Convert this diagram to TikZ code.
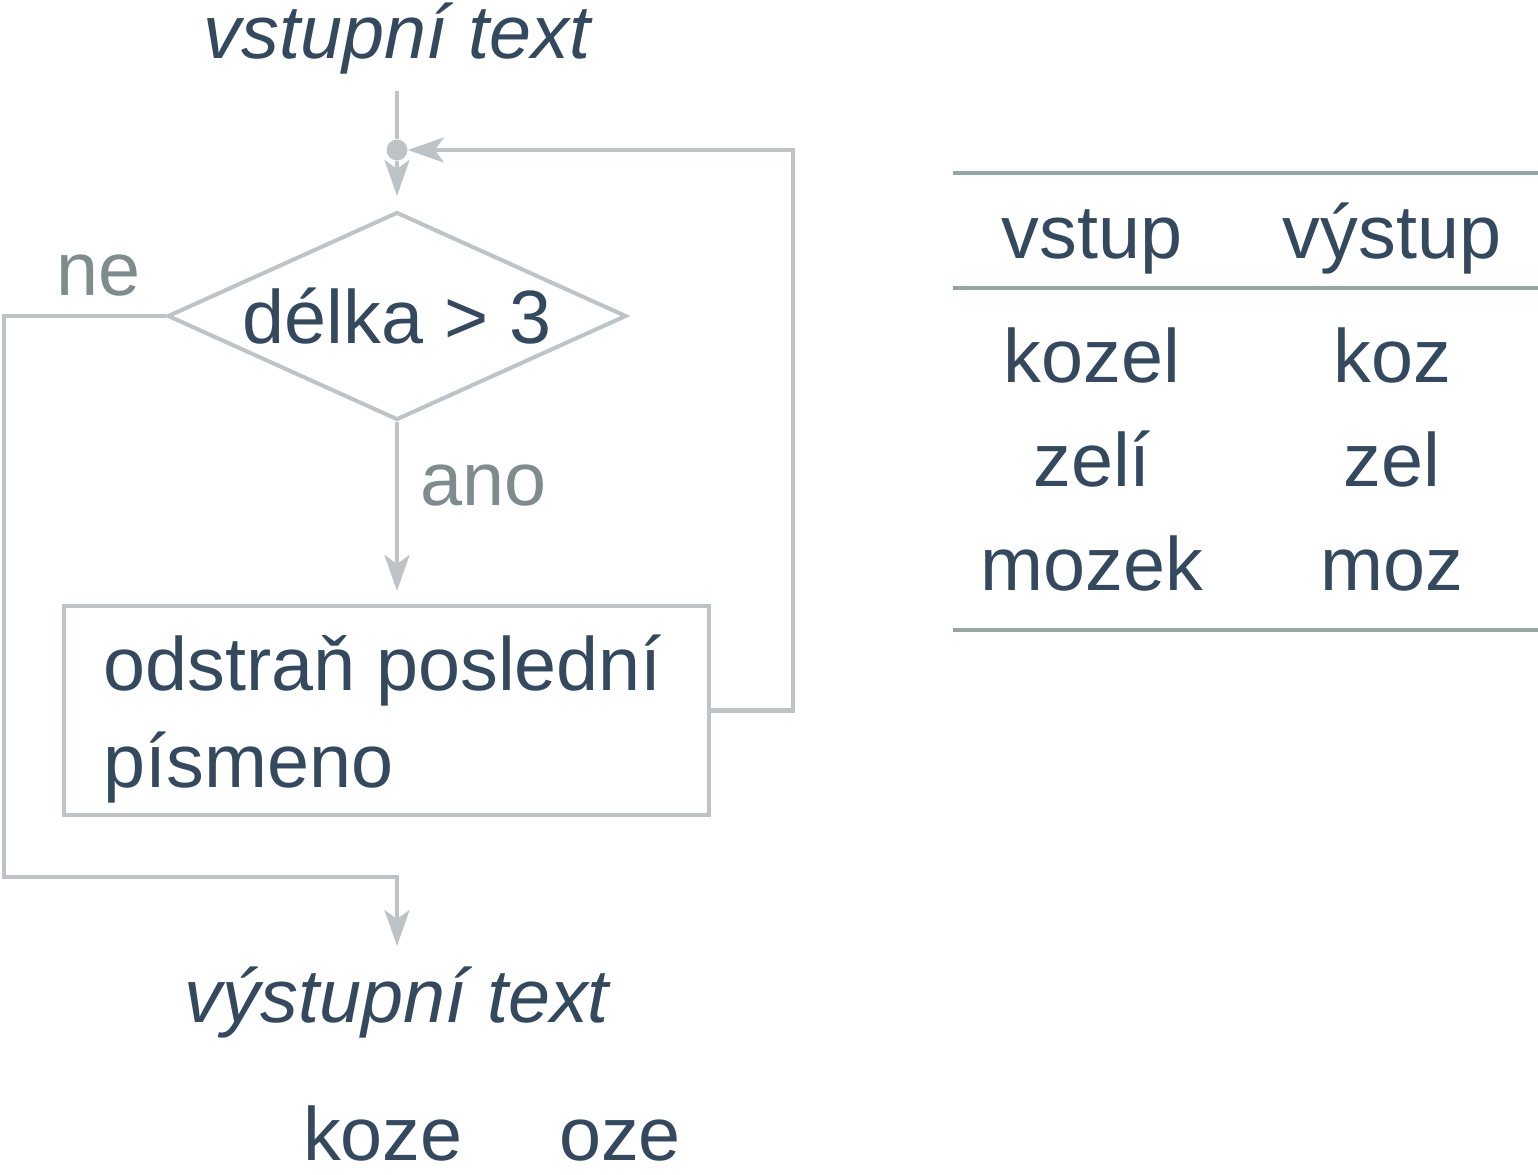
\documentclass[tikz,border=0pt]{standalone}
\usepackage{fontspec}
\setmainfont{Liberation Sans}
\usepackage{tikz}
\usetikzlibrary{arrows.meta}
\usetikzlibrary{shapes.geometric}
\definecolor{inkblue}{HTML}{34495E}
\definecolor{flowgray}{HTML}{BDC3C7}
\definecolor{labelgray}{HTML}{7F8C8D}
\definecolor{rulegray}{HTML}{95A5A6}
\tikzset{
	wire/.style={draw=flowgray, line width=2.3pt},
	flow/.style={wire, -{Stealth[length=0.72cm, width=0.5cm, inset=0.18cm]}},
	word/.style={text=inkblue, inner sep=0pt, font=\fontsize{43}{55}\selectfont},
	slant/.style={word, font=\fontsize{43}{55}\selectfont\itshape},
	branch/.style={word, text=labelgray},
	decision/.style={diamond, wire, aspect=2.2, minimum width=9.18cm, minimum height=4.16cm, inner sep=0pt, text=inkblue, font=\fontsize{43}{55}\selectfont},
	procbox/.style={rectangle, wire, minimum width=12.9cm, minimum height=4.18cm},
	tablerule/.style={draw=rulegray, line width=2.3pt}
}

\begin{document}
\begin{tikzpicture}[x=0.02cm, y=-0.02cm]
	\useasboundingbox (0,0) rectangle (1538,1174);
	\node[slant, anchor=base] (input) at (397,58) {vstupní text};
	\node[circle, fill=flowgray, minimum size=0.42cm, inner sep=0pt] (join) at (397,150) {};
	\node[decision] (cond) at (397,316) {délka > 3};
	\node[procbox] (proc) at (386.5,710.5) {};
	\node[word, anchor=base west, align=left] (proctext) at (103,787) {odstraň poslední\\písmeno};
	\node[branch, anchor=base] (no) at (99,295) {ne};
	\node[branch, anchor=base west] (yes) at (420,505) {ano};
	\node[slant, anchor=base] (output) at (397,1022) {výstupní text};
	\node[word, anchor=base] (short1) at (383,1160) {koze};
	\node[word, anchor=base] (short2) at (620,1160) {oze};
	\coordinate (corner) at (4,877);
	\draw[wire, shorten <=0.34cm] (input) -- (join);
	\draw[flow, shorten >=0.28cm] (join) -- (cond);
	\draw[flow, shorten >=0.26cm] (cond.south) -- (cond.south |- proc.north);
	\draw[flow] (proc.east) -- ++(82,0) |- (join);
	\draw[flow, shorten >=0.4cm] (cond.west) -| (corner) -| (output);
	\draw[tablerule] (953,173) -- (1538,173);
	\draw[tablerule] (953,288) -- (1538,288);
	\draw[tablerule] (953,630) -- (1538,630);
	\node[word, anchor=base] (headin) at (1092,258) {vstup};
	\node[word, anchor=base] (headout) at (1392,258) {výstup};
	\foreach \a/\b [count=\i] in {kozel/koz, zelí/zel, mozek/moz}{
		\node[word, anchor=base] (in\i) at (1092,{278+104*\i}) {\a};
		\node[word, anchor=base] (out\i) at (1392,{278+104*\i}) {\b};
	}
\end{tikzpicture}
\end{document}
